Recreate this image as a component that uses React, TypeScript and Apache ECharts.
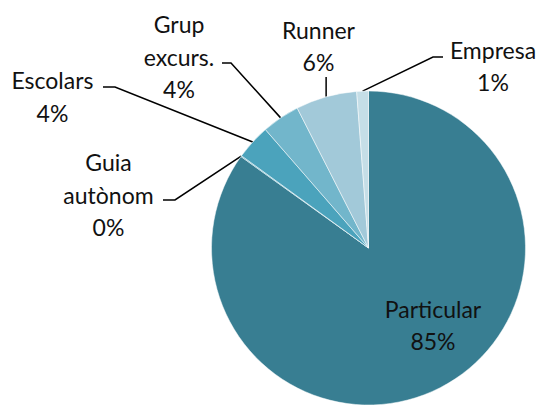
import React, { useEffect, useRef } from "react";
import * as echarts from "echarts";

const categories = ["Particular", "Guia autònom", "Escolars", "Grup excurs.", "Runner", "Empresa"];
const values = [84.9, 0.1, 3.6, 3.9, 6.3, 1.2];
const colors = ["#387E92", "#4BA3BC", "#4BA3BC", "#72B6CB", "#A2C9D9", "#C5DEE7"];

// label layout (positions only)
const labelLayouts: any[] = [
  { x: 433, y: 325, line: null },
  { x: 108.5, y: 194.5, line: [[175, 200], [163, 200]] },
  { x: 52.5, y: 96.5, line: [[115, 87], [103, 87]] },
  { x: 179, y: 56.5, line: [[231, 63], [222, 63]] },
  { x: 318.5, y: 46, line: "vertical", top: 77 },
  { x: 493, y: 66, line: [[433, 57], [443, 57]] },
];

export default function App() {
  const ref = useRef<HTMLDivElement>(null);
  useEffect(() => {
    if (!ref.current) return;
    const chart = echarts.init(ref.current, null, { renderer: "svg" });
    const data = categories.map((name, i) => ({
      name,
      value: values[i],
      itemStyle: { color: colors[i] },
      label: i === 0 ? { position: "inside" } : undefined,
      labelLine: i === 0 ? { show: false } : undefined,
    }));
    chart.setOption({
      animation: false,
      backgroundColor: "#ffffff",
      series: [
        {
          type: "pie",
          center: [368.5, 248],
          radius: 157,
          startAngle: 90,
          clockwise: true,
          avoidLabelOverlap: false,
          percentPrecision: 0,
          itemStyle: { borderColor: "#ffffff", borderWidth: 0.5 },
          label: {
            show: true,
            position: "outside",
            formatter: (p: any) => p.name.split(" ").join("\n") + "\n" + p.percent + "%",
            fontFamily: "Lato",
            fontSize: 23,
            lineHeight: 32.5,
            color: "#111111",
            align: "center",
          },
          labelLine: {
            show: true,
            lineStyle: { color: "#000000", width: 1.5 },
          },
          labelLayout: (params: any) => {
            const l = labelLayouts[params.dataIndex];
            const out: any = { x: l.x, y: l.y, align: "center", verticalAlign: "middle" };
            if (l.line && params.labelLinePoints) {
              const s = params.labelLinePoints[0];
              if (l.line === "vertical") {
                out.labelLinePoints = [s, [s[0], l.top], [s[0], l.top]];
              } else {
                out.labelLinePoints = [s, l.line[0], l.line[1]];
              }
            }
            return out;
          },
          data,
        },
      ],
    });
    return () => chart.dispose();
  }, []);
  return (
    <div
      ref={ref}
      style={{ position: "absolute", left: 0, top: 0, width: 542, height: 405 }}
    />
  );
}
